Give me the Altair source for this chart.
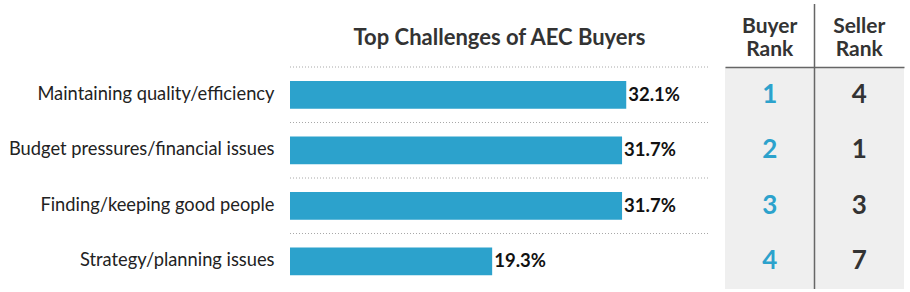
import altair as alt
import pandas as pd

categories = [
    "Maintaining quality/efficiency",
    "Budget pressures/financial issues",
    "Finding/keeping good people",
    "Strategy/planning issues",
]
percent = [32.1, 31.7, 31.7, 19.3]
buyer_rank = [1, 2, 3, 4]
seller_rank = [4, 1, 3, 7]
rank_columns = ["Buyer Rank", "Seller Rank"]

FONT = "Lato"
BLUE = "#2ca2cc"
DARK = "#333333"

PLOT_H = 222
STEP = PLOT_H / 4
PAD_INNER = 0.5

bars_df = pd.DataFrame({"cat": categories, "pct": percent})
bars_df["label"] = [f"{v:.1f}%" for v in percent]

rank_df = pd.DataFrame(
    {
        "cat": categories * 2,
        "col": [rank_columns[0]] * len(categories) + [rank_columns[1]] * len(categories),
        "rank": buyer_rank + seller_rank,
    }
)
header_df = pd.DataFrame({"col": rank_columns})

y_scale = alt.Scale(domain=categories, paddingInner=PAD_INNER, paddingOuter=0.25)
x_scale = alt.Scale(domain=[0, 40])
col_scale = alt.Scale(domain=rank_columns, paddingInner=0, paddingOuter=0)

base = alt.Chart(bars_df)

y_axis = alt.Axis(
    title=None,
    ticks=False,
    domain=False,
    grid=False,
    labelFont=FONT,
    labelFontSize=18.3,
    labelColor="#222222",
    labelPadding=16,
    minExtent=285,
    maxExtent=285,
    labelLimit=400,
)

grid = base.mark_rule(
    color="#a8a8a8", strokeDash=[1, 2], strokeWidth=1, yOffset=-STEP * PAD_INNER / 2
).encode(
    y=alt.Y("cat:N", scale=y_scale, bandPosition=0, axis=y_axis),
    x=alt.value(0),
    x2=alt.value(419),
)

bars = base.mark_bar(color=BLUE).encode(
    y=alt.Y("cat:N", scale=y_scale, axis=y_axis),
    x=alt.X("pct:Q", scale=x_scale, axis=None),
)

labels = base.mark_text(
    align="left", baseline="middle", dx=2, font=FONT, fontSize=18.5, fontWeight="bold", color="#111111"
).encode(
    y=alt.Y("cat:N", scale=y_scale, axis=y_axis),
    x=alt.X("pct:Q", scale=x_scale, axis=None),
    text="label:N",
)

left = alt.layer(grid, bars, labels).properties(
    width=419,
    height=PLOT_H,
    title=alt.TitleParams(
        "Top Challenges of AEC Buyers",
        anchor="middle",
        font=FONT,
        fontSize=22,
        fontWeight="bold",
        color=DARK,
        baseline="alphabetic",
        offset=0,
    ),
)

x_axis = alt.Axis(
    title=None,
    orient="top",
    ticks=False,
    labels=False,
    domain=True,
    domainColor="#666666",
    domainWidth=1.5,
)

rbase = alt.Chart(rank_df)

rank_text = rbase.mark_text(font=FONT, fontSize=26, fontWeight="bold", baseline="middle").encode(
    x=alt.X("col:N", sort=rank_columns, axis=x_axis, scale=col_scale),
    y=alt.Y("cat:N", scale=y_scale, axis=None),
    text="rank:Q",
    color=alt.Color("col:N", scale=alt.Scale(domain=rank_columns, range=[BLUE, DARK]), legend=None),
)

headers = (
    alt.Chart(header_df)
    .transform_calculate(lines="split(datum.col, ' ')")
    .mark_text(font=FONT, fontSize=21, fontWeight="bold", color=DARK, baseline="alphabetic", lineHeight=23)
    .encode(
        x=alt.X("col:N", sort=rank_columns, axis=x_axis, scale=col_scale),
        y=alt.value(-34),
        text="lines:N",
    )
)

divider = (
    alt.Chart(pd.DataFrame({"col": [rank_columns[1]]}))
    .mark_rule(color="#666666", strokeWidth=1.5)
    .encode(
        x=alt.X("col:N", sort=rank_columns, bandPosition=0, axis=x_axis, scale=col_scale),
        y=alt.value(-63),
        y2=alt.value(PLOT_H),
    )
)

right = alt.layer(rank_text, headers, divider).properties(
    width=179,
    height=PLOT_H,
    view=alt.ViewBackground(fill="#efefef", stroke=None),
)

chart = (
    alt.hconcat(left, right, spacing=15)
    .properties(background="white", padding={"left": 5, "top": 3, "right": 5, "bottom": 3})
    .configure_view(stroke=None)
)

chart.save("out.html", embed_options={"renderer": "svg", "actions": False})
